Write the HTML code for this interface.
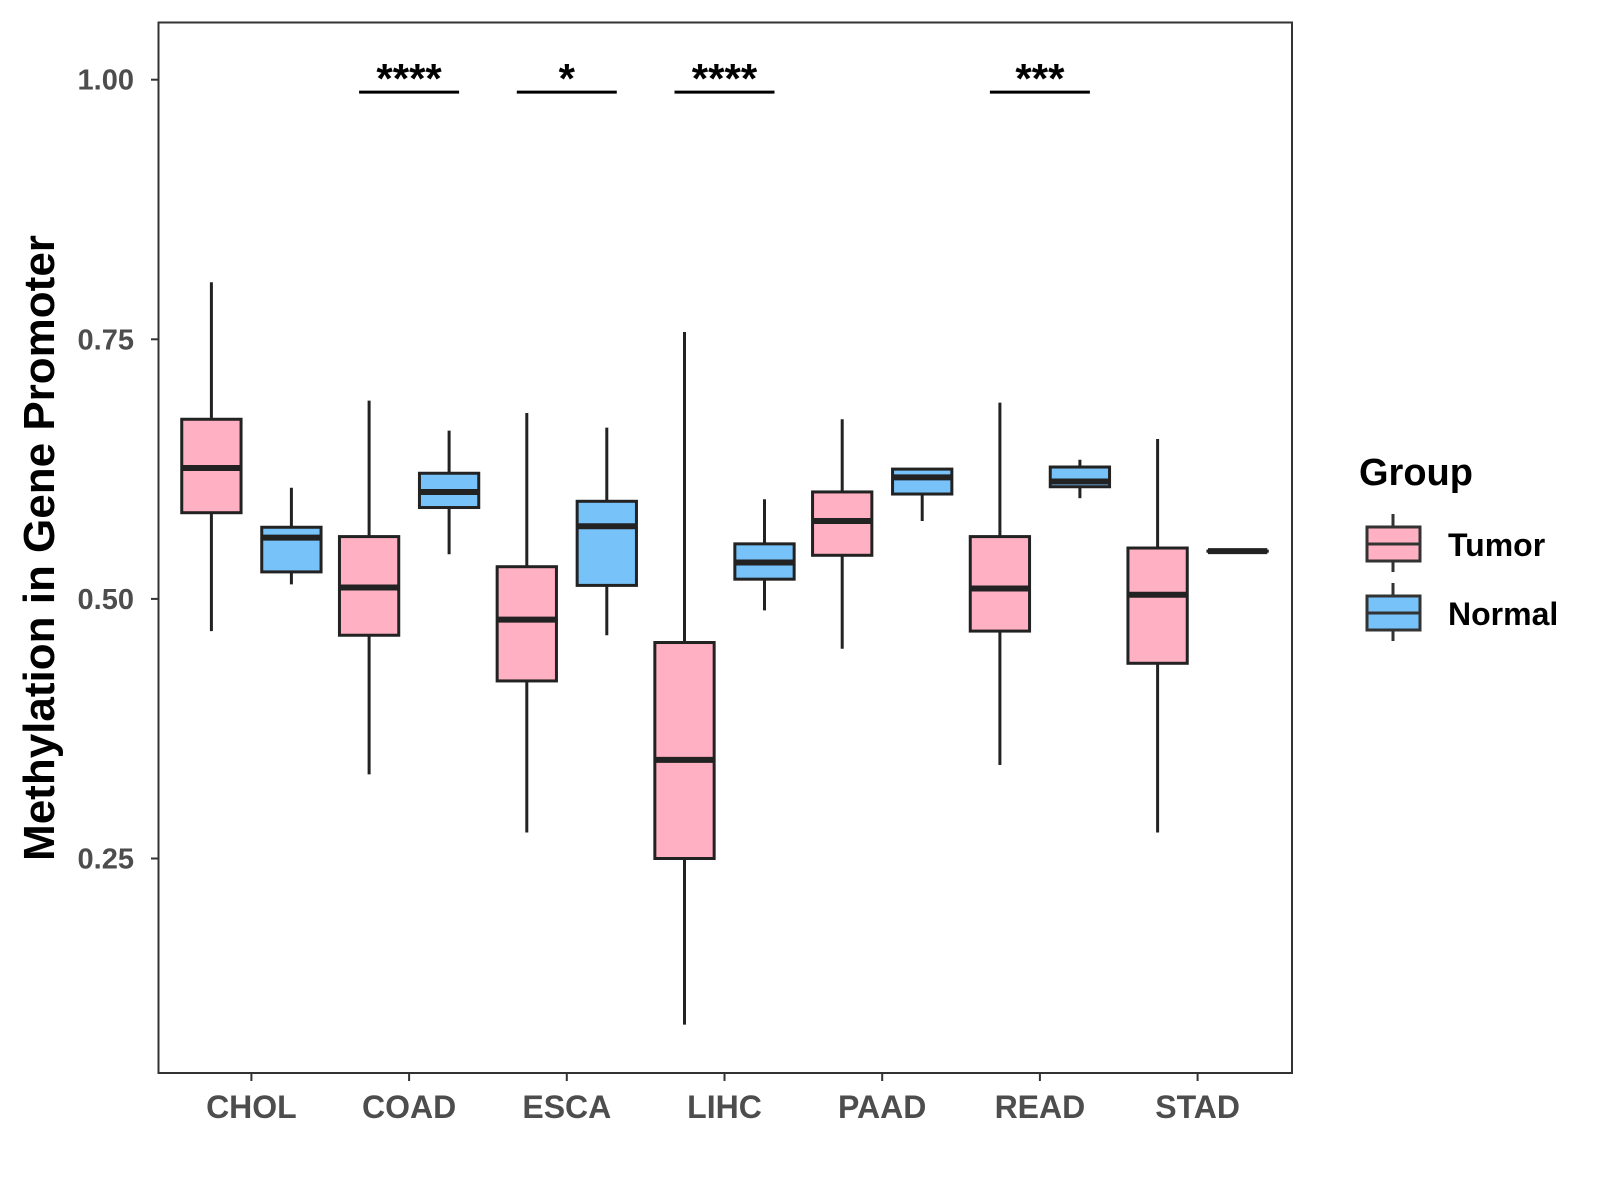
<!DOCTYPE html>
<html><head><meta charset="utf-8"><style>
html,body{margin:0;padding:0;background:#fff;}
svg{display:block;font-family:"Liberation Sans",Arial,sans-serif;}
</style></head><body>
<svg id="chart" width="1600" height="1200" viewBox="0 0 1600 1200" xmlns="http://www.w3.org/2000/svg">
<rect width="1600" height="1200" fill="#fff"/>
<g id="plot"></g>
<rect x="158.5" y="22.5" width="1133.5" height="1050.5" fill="none" stroke="#333" stroke-width="2"/>
<text transform="translate(54,548) rotate(-90)" text-anchor="middle" font-size="44" font-weight="bold" fill="#000">Methylation in Gene Promoter</text>
<g>
<text x="1359" y="485" font-size="38" font-weight="bold" fill="#000">Group</text>
<g>
<line x1="1393" y1="514" x2="1393" y2="572" stroke="#333" stroke-width="3"/>
<rect x="1367" y="527" width="53" height="34" fill="#FFB0C2" stroke="#333" stroke-width="3"/>
<line x1="1367" y1="544" x2="1420" y2="544" stroke="#333" stroke-width="3"/>
<text x="1448" y="556" font-size="32" font-weight="bold" fill="#000">Tumor</text>
</g>
<g>
<line x1="1393" y1="583" x2="1393" y2="641" stroke="#333" stroke-width="3"/>
<rect x="1367" y="596" width="53" height="34" fill="#77C2F8" stroke="#333" stroke-width="3"/>
<line x1="1367" y1="613" x2="1420" y2="613" stroke="#333" stroke-width="3"/>
<text x="1448" y="625" font-size="32" font-weight="bold" fill="#000">Normal</text>
</g>
</g>
</svg>
<script>
const categories = ["CHOL","COAD","ESCA","LIHC","PAAD","READ","STAD"];
const tumorStats = [
 [0.469,0.583,0.626,0.673,0.805],
 [0.331,0.465,0.511,0.560,0.691],
 [0.275,0.421,0.480,0.531,0.679],
 [0.090,0.250,0.345,0.458,0.757],
 [0.452,0.542,0.575,0.603,0.673],
 [0.340,0.469,0.510,0.560,0.689],
 [0.275,0.438,0.504,0.549,0.654]
];
const normalStats = [
 [0.514,0.526,0.559,0.569,0.607],
 [0.543,0.588,0.603,0.621,0.662],
 [0.465,0.513,0.570,0.594,0.665],
 [0.489,0.519,0.535,0.553,0.596],
 [0.575,0.601,0.617,0.625,0.625],
 [0.597,0.608,0.613,0.627,0.634],
 [0.546,0.546,0.546,0.546,0.546]
];
const sigLabels = ["","****","*","****","","***",""];
const yTicks = [0.25,0.50,0.75,1.00];
const yTickLabels = ["0.25","0.50","0.75","1.00"];
const sigLevel = 0.988;

const NS="http://www.w3.org/2000/svg";
const g=document.getElementById('plot');
function y(v){return 79.7 + (1-v)/0.25*259.6;}
function x(i){return 251.4 + i*157.7;}
function mk(tag,attrs){const e=document.createElementNS(NS,tag);for(const k in attrs)e.setAttribute(k,attrs[k]);g.appendChild(e);return e;}

yTicks.forEach((t,i)=>{
 const l=mk('line',{x1:151,x2:158.5,y1:y(t),y2:y(t),stroke:'#333','stroke-width':2});
 
 
 const tx=mk('text',{x:134,y:y(t)+10,'text-anchor':'end','font-size':29,'font-weight':'bold',fill:'#4d4d4d'});
 tx.textContent=yTickLabels[i];
 
 
});
categories.forEach((c,i)=>{
 const l=mk('line',{x1:x(i),x2:x(i),y1:1073,y2:1081,stroke:'#333','stroke-width':2});
 
 
 const tx=mk('text',{x:x(i),y:1118,'text-anchor':'middle','font-size':32,'font-weight':'bold',fill:'#4d4d4d'});
 tx.textContent=c;
 
 
});
function box(s,cx,fill,name){
 const w=59.3;
 const wl=mk('line',{x1:cx,x2:cx,y1:y(s[4]),y2:y(s[0]),stroke:'#222','stroke-width':3});
 
 
 const r=mk('rect',{x:cx-w/2,y:y(s[3]),width:w,height:Math.max(y(s[1])-y(s[3]),0.1),fill:fill,stroke:'#222','stroke-width':3});
 
 
 const m=mk('line',{x1:cx-w/2,x2:cx+w/2,y1:y(s[2]),y2:y(s[2]),stroke:'#222','stroke-width':6});
 
 
}
categories.forEach((c,i)=>{
 box(tumorStats[i],x(i)-40,'#FFB0C2','tumor-'+c.toLowerCase());
 box(normalStats[i],x(i)+40,'#77C2F8','normal-'+c.toLowerCase());
 if(sigLabels[i]){
  const l=mk('line',{x1:x(i)-50,x2:x(i)+50,y1:y(sigLevel),y2:y(sigLevel),stroke:'#000','stroke-width':3});
  
  
  const t=mk('text',{x:x(i),y:y(sigLevel)+1,'text-anchor':'middle','font-size':42,'font-weight':'bold',fill:'#000'});
  t.textContent=sigLabels[i];
  
  
 }
});
</script>
</body></html>
